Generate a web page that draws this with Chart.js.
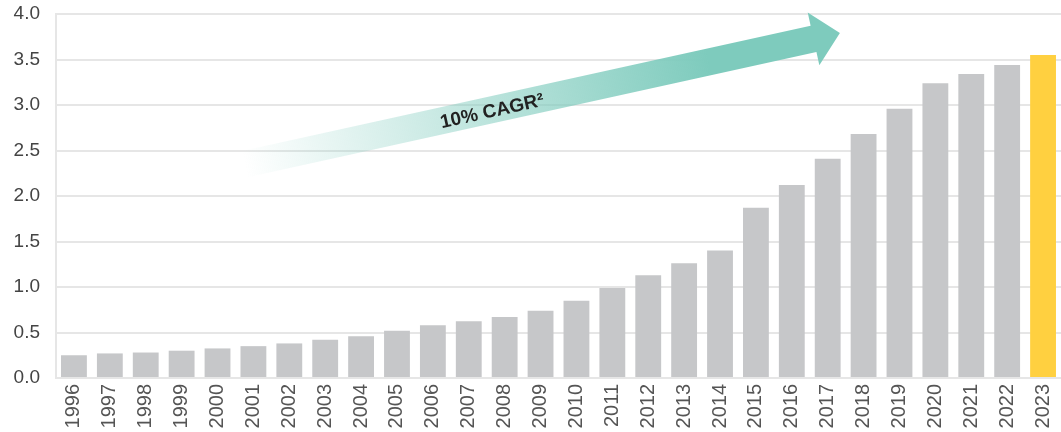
<!DOCTYPE html>
<html lang="en">
<head>
    <meta charset="UTF-8">
    <title>Growth since 1996</title>
    <script src="https://cdn.jsdelivr.net/npm/chart.js"></script>
    <style>
        html, body { margin: 0; padding: 0; background: #fff; }
        #wrap { width: 1061px; height: 432px; }
    </style>
</head>
<body>
    <div id="wrap">
        <canvas id="growthChart"></canvas>
    </div>

    <script>
        // Data
        const years = ['1996', '1997', '1998', '1999', '2000', '2001', '2002', '2003', '2004', '2005',
                       '2006', '2007', '2008', '2009', '2010', '2011', '2012', '2013', '2014', '2015',
                       '2016', '2017', '2018', '2019', '2020', '2021', '2022', '2023'];
        const values = [0.25, 0.27, 0.28, 0.30, 0.325, 0.35, 0.38, 0.42, 0.46, 0.52,
                        0.58, 0.625, 0.67, 0.74, 0.85, 0.99, 1.13, 1.26, 1.40, 1.87,
                        2.12, 2.41, 2.68, 2.96, 3.24, 3.34, 3.44, 3.55];
        const yTicks = [0, 0.5, 1.0, 1.5, 2.0, 2.5, 3.0, 3.5, 4.0];
        const arrowLabel = '10% CAGR²';
        // arrow anchored in axis units: [category index, value]
        const arrowTail = [4.76, 2.35];
        const arrowTip = [21.34, 3.79];

        const barColors = years.map(y => y === '2023' ? '#FFD040' : '#C6C7C9');

        const arrowPlugin = {
            id: 'cagrArrow',
            afterDatasetsDraw(chart) {
                const ctx = chart.ctx;
                const xs = chart.scales.x, ys = chart.scales.y;
                const x0 = xs.getPixelForValue(arrowTail[0]), y0 = ys.getPixelForValue(arrowTail[1]);
                const x1 = xs.getPixelForValue(arrowTip[0]), y1 = ys.getPixelForValue(arrowTip[1]);
                const len = Math.hypot(x1 - x0, y1 - y0);
                const ang = Math.atan2(y1 - y0, x1 - x0);
                const half = 13.5, headLen = 27, headHalf = 27;

                ctx.save();
                ctx.translate(x0, y0);
                ctx.rotate(ang);
                const grad = ctx.createLinearGradient(0, 0, len, 0);
                grad.addColorStop(0, 'rgba(126,203,189,0)');
                grad.addColorStop(0.78, 'rgba(126,203,189,1)');
                grad.addColorStop(1, 'rgba(126,203,189,1)');
                ctx.fillStyle = grad;
                ctx.beginPath();
                ctx.moveTo(0, -half);
                ctx.lineTo(len - headLen, -half);
                ctx.lineTo(len - headLen, -headHalf);
                ctx.lineTo(len, 0);
                ctx.lineTo(len - headLen, headHalf);
                ctx.lineTo(len - headLen, half);
                ctx.lineTo(0, half);
                ctx.closePath();
                ctx.fill();

                // label along the shaft
                ctx.fillStyle = '#222';
                ctx.font = 'bold 19px "Liberation Sans", Arial, sans-serif';
                ctx.textAlign = 'center';
                ctx.textBaseline = 'middle';
                ctx.fillText(arrowLabel, len * 0.415, 2);
                ctx.restore();
            }
        };

        new Chart(document.getElementById('growthChart'), {
            type: 'bar',
            data: {
                labels: years,
                datasets: [{
                    data: values,
                    backgroundColor: barColors,
                    borderWidth: 0,
                    barPercentage: 0.72,
                    categoryPercentage: 1.0
                }]
            },
            options: {
                responsive: true,
                maintainAspectRatio: false,
                animation: false,
                layout: { padding: { top: 14, right: -2, bottom: 0, left: 0 } },
                plugins: {
                    legend: { display: false },
                    tooltip: { enabled: false }
                },
                scales: {
                    x: {
                        grid: { display: false, drawTicks: false },
                        border: { display: false },
                        ticks: {
                            color: '#555',
                            font: { family: '"Liberation Sans", Arial, sans-serif', size: 20 },
                            minRotation: 90,
                            maxRotation: 90,
                            padding: 6,
                            autoSkip: false
                        },
                        afterFit(scale) {
                            scale.height = 54;
                            scale.paddingLeft = 0;
                            scale.paddingRight = 0;
                        }
                    },
                    y: {
                        min: 0,
                        max: 4,
                        grid: { color: '#E6E6E6', lineWidth: 2, drawTicks: false },
                        border: { display: true, color: '#E6E6E6', width: 2 },
                        afterBuildTicks(scale) { scale.ticks = yTicks.map(v => ({ value: v })); },
                        ticks: {
                            color: '#444',
                            font: { family: '"Liberation Sans", Arial, sans-serif', size: 19 },
                            padding: 16,
                            callback: v => v.toFixed(1)
                        },
                        afterFit(scale) {
                            scale.width = 56;
                            scale.paddingTop = 0;
                            scale.paddingBottom = 0;
                        }
                    }
                }
            },
            plugins: [arrowPlugin]
        });
    </script>
</body>
</html>
